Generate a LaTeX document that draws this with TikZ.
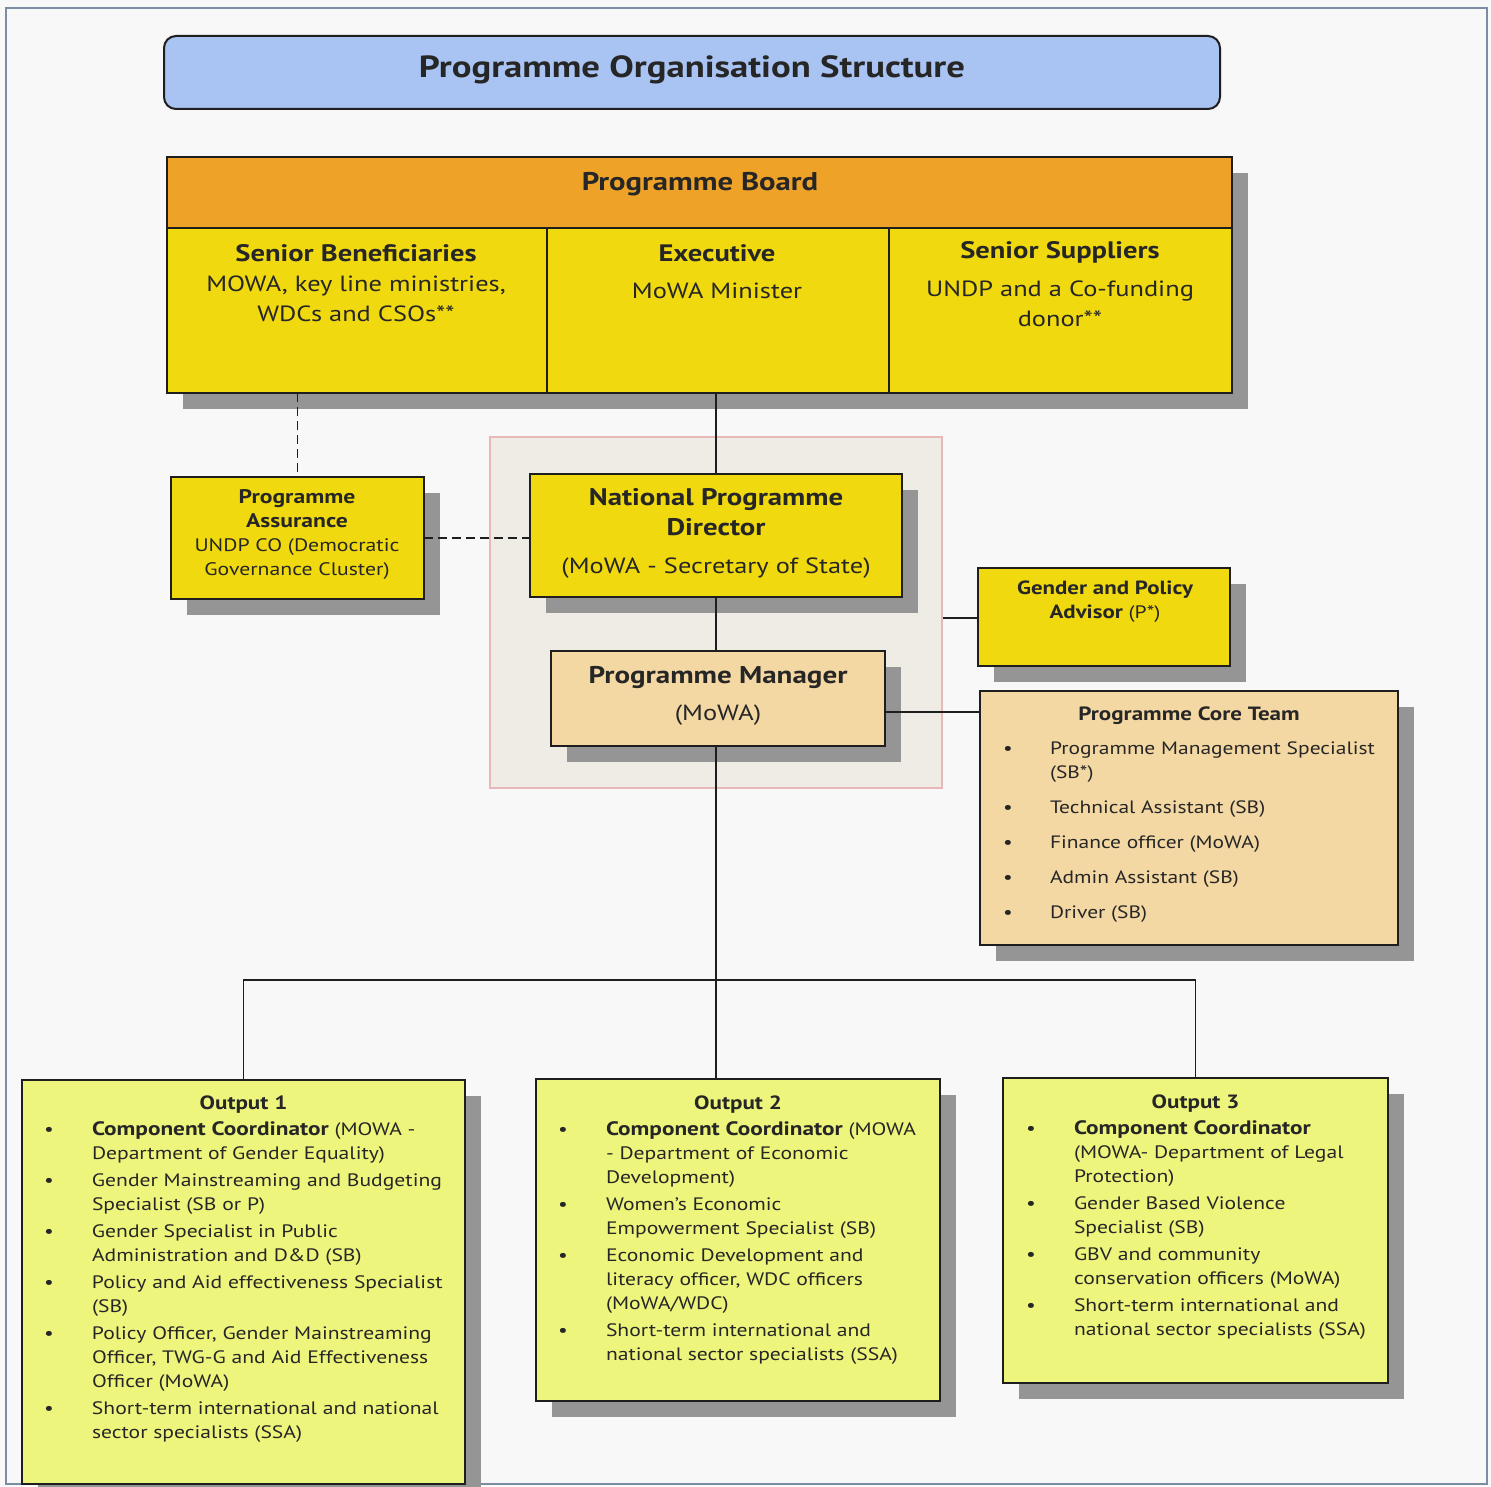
\documentclass[tikz,border=0pt]{standalone}
\usepackage{fontspec}
\setmainfont{PT Sans}[FakeStretch=1.2]
\usetikzlibrary{fit}
\definecolor{bgc}{HTML}{F8F8F9}
\definecolor{framec}{HTML}{7B8CA3}
\definecolor{titlec}{HTML}{A9C4F2}
\definecolor{orangec}{HTML}{EEA227}
\definecolor{yellowc}{HTML}{F1D90F}
\definecolor{beigec}{HTML}{F4D8A3}
\definecolor{greenc}{HTML}{EEF57C}
\definecolor{shadowc}{HTML}{959595}
\definecolor{panelc}{HTML}{EFECE6}
\definecolor{panelline}{HTML}{E6B8B8}
\definecolor{textc}{HTML}{262626}
\definecolor{linec}{HTML}{1E1E1E}
\newcommand\bl{\textbullet}
\newcommand\bb[1]{{\fontsize{9.7}{12}\selectfont\bfseries #1}}
\begin{document}
\begin{tikzpicture}[x=0.5pt,y=-0.5pt,
  every node/.style={text=textc, inner sep=0pt, outer sep=0pt},
  boxbase/.style={draw=linec, line width=1pt, inner sep=0pt},
  shadowed/.style={boxbase, preaction={fill=shadowc, transform canvas={xshift=8pt,yshift=-8pt}}},
  yellowbox/.style={shadowed, fill=yellowc},
  beigebox/.style={shadowed, fill=beigec},
  greenbox/.style={shadowed, fill=greenc},
  conn/.style={draw=linec, line width=0.9pt},
  dconn/.style={conn, dash pattern=on 4.5pt off 2.5pt},
  listtxt/.style={font=\fontsize{9}{12}\selectfont, anchor=base west, align=left},
  hdr/.style={font=\fontsize{9.6}{12}\selectfont\bfseries, anchor=base},
]
\useasboundingbox (0,0) rectangle (1491,1486);
\fill[bgc] (0,0) rectangle (1491,1486);
\draw[framec, line width=1.2pt] (6,8) rectangle (1487,1484);

% faint panel
\node[draw=panelline, fill=panelc, line width=0.6pt, fit={(490,437) (942,788)}] (panel) {};

% title
\node[boxbase, fill=titlec, rounded corners=6pt, fit={(164,36) (1220,109)}] (title) {};
\node[font=\fontsize{15.3}{18}\selectfont\bfseries] (titleT) at (692,70) {Programme Organisation Structure};

% board
\node[yellowbox, fit={(167,157) (1232,393)}] (board) {};
\node[boxbase, fill=orangec, fit={(167,157) (1232,228)}] (bhead) {};
\node[boxbase, fit={(167,228) (547,393)}] (sb) {};
\node[boxbase, fit={(547,228) (889,393)}] (ex) {};
\node[boxbase, fit={(889,228) (1232,393)}] (ss) {};
\node[font=\fontsize{12.8}{15}\selectfont\bfseries] (bheadT) at (700,184) {Programme Board};
\node[font=\fontsize{11}{15}\selectfont, align=center] (sbT) at (356,283)
  {{\fontsize{11.9}{15}\selectfont\bfseries Senior Beneficiaries}\\MOWA, key line ministries,\\WDCs and CSOs**};
\node[font=\fontsize{11}{15}\selectfont, align=center] (exT) at (717,271.5)
  {{\fontsize{11.9}{15}\selectfont\bfseries Executive}\\[3.5pt]MoWA Minister};
\node[font=\fontsize{11}{15}\selectfont, align=center] (ssT) at (1060,284.5)
  {{\fontsize{11.9}{15}\selectfont\bfseries Senior Suppliers}\\[4pt]UNDP and a Co-funding\\donor**};

% programme assurance
\node[yellowbox, fit={(171,477) (424,599)}] (pa) {};
\node[font=\fontsize{9.05}{12}\selectfont, align=center] (paT) at (297,534.5)
  {{\fontsize{9.85}{12}\selectfont\bfseries Programme}\\{\fontsize{9.85}{12}\selectfont\bfseries Assurance}\\UNDP CO (Democratic\\Governance Cluster)};

% national programme director
\node[yellowbox, fit={(530,474) (902,597)}] (npd) {};
\node[font=\fontsize{11}{15}\selectfont, align=center] (npdT) at (716,533)
  {{\fontsize{12}{15}\selectfont\bfseries National Programme}\\{\fontsize{12}{15}\selectfont\bfseries Director}\\[4pt](MoWA - Secretary of State)};

% programme manager
\node[beigebox, fit={(551,651) (885,746)}] (pm) {};
\node[font=\fontsize{11}{15}\selectfont, align=center] (pmT) at (718,695.5)
  {{\fontsize{12.1}{15}\selectfont\bfseries Programme Manager}\\[3.5pt](MoWA)};

% gender and policy advisor
\node[yellowbox, fit={(978,568) (1230,666)}] (gpa) {};
\node[font=\fontsize{9}{12}\selectfont, align=center] (gpaT) at (1105,602)
  {{\fontsize{9.55}{12}\selectfont\bfseries Gender and Policy}\\{\fontsize{9.55}{12}\selectfont\bfseries Advisor} (P*)};

% programme core team
\node[beigebox, fit={(980,691) (1398,945)}] (core) {};
\node[hdr] (coreH) at (1189,720) {Programme Core Team};
\node[listtxt, font=\fontsize{8.95}{12}\selectfont] (coreT) at (1003,754) {\begin{tabular}[t]{@{}p{23.5pt}@{}l@{}}
\bl & Programme Management Specialist\\
    & (SB*)\\[5.5pt]
\bl & Technical Assistant (SB)\\[5.5pt]
\bl & Finance officer (MoWA)\\[5.5pt]
\bl & Admin Assistant (SB)\\[5.5pt]
\bl & Driver (SB)
\end{tabular}};

% outputs
\node[greenbox, fit={(22,1080) (465,1484)}] (o1) {};
\node[hdr] (o1H) at (243.5,1109) {Output 1};
\node[listtxt] (o1T) at (44,1135) {\begin{tabular}[t]{@{}p{24pt}@{}l@{}}
\bl & \bb{Component Coordinator} (MOWA -\\
    & Department of Gender Equality)\\[1.5pt]
\bl & Gender Mainstreaming and Budgeting\\
    & Specialist (SB or P)\\[1.5pt]
\bl & Gender Specialist in Public\\
    & Administration and D\&D (SB)\\[1.5pt]
\bl & Policy and Aid effectiveness Specialist\\
    & (SB)\\[1.5pt]
\bl & Policy Officer, Gender Mainstreaming\\
    & Officer, TWG-G and Aid Effectiveness\\
    & Officer (MoWA)\\[1.5pt]
\bl & Short-term international and national\\
    & sector specialists (SSA)
\end{tabular}};

\node[greenbox, fit={(536,1079) (940,1401)}] (o2) {};
\node[hdr] (o2H) at (738,1109) {Output 2};
\node[listtxt] (o2T) at (558,1135) {\begin{tabular}[t]{@{}p{24pt}@{}l@{}}
\bl & \bb{Component Coordinator} (MOWA\\
    & - Department of Economic\\
    & Development)\\[1.5pt]
\bl & Women's Economic\\
    & Empowerment Specialist (SB)\\[1.5pt]
\bl & Economic Development and\\
    & literacy officer, WDC officers\\
    & (MoWA/WDC)\\[1.5pt]
\bl & Short-term international and\\
    & national sector specialists (SSA)
\end{tabular}};

\node[greenbox, fit={(1003,1078) (1388,1383)}] (o3) {};
\node[hdr] (o3H) at (1195.5,1108) {Output 3};
\node[listtxt] (o3T) at (1026,1134) {\begin{tabular}[t]{@{}p{24pt}@{}l@{}}
\bl & \bb{Component Coordinator}\\
    & (MOWA- Department of Legal\\
    & Protection)\\[1.5pt]
\bl & Gender Based Violence\\
    & Specialist (SB)\\[1.5pt]
\bl & GBV and community\\
    & conservation officers (MoWA)\\[1.5pt]
\bl & Short-term international and\\
    & national sector specialists (SSA)
\end{tabular}};

% connectors
\coordinate (bus) at (718,980);
\coordinate (pmc) at (885,712);
\coordinate (gpc) at (943,618);
\draw[dconn] (pa.north |- board.south) -- (pa.north);
\draw[conn] (npd.north |- board.south) -- (npd.north);
\draw[dconn] (pa.east) -- (pa.east -| npd.west);
\draw[conn] (npd.south) -- (npd.south |- pm.north);
\draw[conn] (npd.south |- pm.south) -- (npd.south |- o2.north);
\draw[conn] (pmc) -- (pmc -| core.west);
\draw[conn] (gpc) -- (gpc -| gpa.west);
\draw[conn] (o1.north) -- (o1.north |- bus) -- (o3.north |- bus) -- (o3.north);
\end{tikzpicture}
\end{document}
